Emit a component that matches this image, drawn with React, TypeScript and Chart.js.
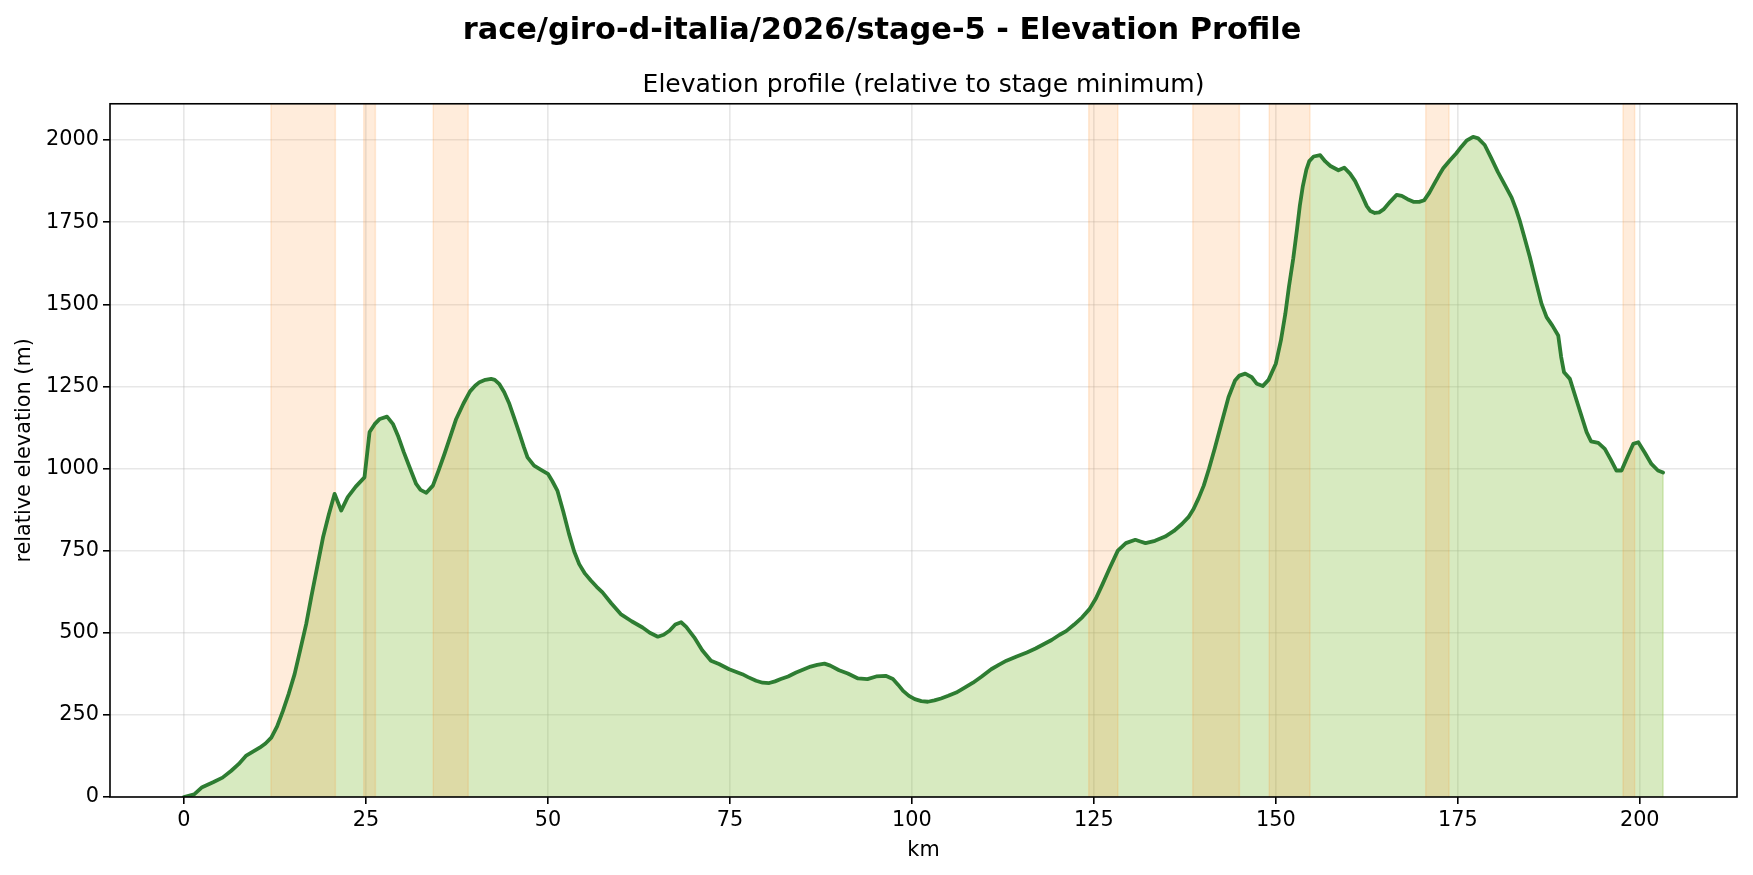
import React, { useEffect, useRef } from 'react';
import { Chart, registerables } from 'chart.js';

Chart.register(...registerables);

const kmValues = [
  0, 1.4, 2.5, 4, 5.3, 6.5, 7.5, 8.5, 10.4, 11.2, 12, 12.8, 13.6, 14.4, 15.2, 16, 16.8, 17.5, 18.3, 19.1,
  19.9, 20.7, 21.6, 22.5, 23.6, 24.8, 25.5, 26.2, 26.9, 27.9, 28.7, 29.4, 30.2, 31.0, 31.9, 32.5, 33.3, 34.2, 35.0, 35.8,
  36.6, 37.4, 38.4, 39.3, 40.0, 40.6, 41.4, 42.2, 42.7, 43.3, 44.0, 44.7, 45.4, 46.1, 46.7, 47.2, 48.1, 49.0, 50.0, 50.6,
  51.3, 52.1, 52.9, 53.6, 54.3, 55.1, 55.9, 56.7, 57.5, 58.7, 60.0, 61.5, 63.0, 64.0, 65.1, 65.9, 66.7, 67.5, 68.3, 69.0,
  70.1, 71.2, 72.4, 73.5, 74.9, 76.7, 77.5, 78.6, 79.5, 80.4, 81.2, 82.0, 83.0, 84.1, 85.1, 86.1, 87.0, 88.0, 88.8, 90.0,
  91.2, 92.6, 93.9, 95.1, 96.4, 97.4, 98.1, 98.8, 99.6, 100.4, 101.3, 102.2, 103.1, 104.0, 105.0, 106.1, 107.2, 108.4, 109.6, 110.9,
  112.0, 113.0, 114.4, 115.8, 117.0, 118.1, 119.2, 120.3, 121.2, 122.3, 123.4, 124.4, 125.3, 126.2, 127.2, 128.3, 129.4, 130.7, 131.4, 132.1,
  133.4, 134.8, 136.0, 137.1, 138.0, 138.7, 139.4, 140.1, 140.8, 141.6, 142.5, 143.5, 144.4, 145.0, 145.8, 146.7, 147.4, 148.2, 149.0, 150.0,
  150.7, 151.3, 151.8, 152.4, 152.9, 153.3, 153.7, 154.2, 154.6, 155.2, 156.1, 156.8, 157.5, 158.6, 159.4, 160.2, 160.9, 161.7, 162.5, 163.0,
  163.6, 164.2, 164.8, 165.7, 166.6, 167.3, 168.1, 168.9, 169.7, 170.4, 171.1, 171.8, 172.4, 173.0, 173.9, 174.8, 175.5, 176.2, 177.1, 177.8,
  178.7, 179.6, 180.5, 181.5, 182.4, 183.0, 183.5, 184.2, 184.9, 185.7, 186.5, 187.2, 188.0, 188.8, 189.2, 189.6, 190.4, 191.5, 192.7, 193.3,
  194.3, 195.2, 196.0, 196.8, 197.5, 198.3, 199.1, 199.8, 200.7, 201.6, 202.5, 203.2,
];

const elevationValues = [
  0, 8, 30, 45, 59, 80, 100, 125, 150, 163, 181, 215, 262, 315, 374, 450, 527, 610, 700, 790,
  860, 923, 872, 913, 945, 973, 1111, 1135, 1151, 1158, 1136, 1100, 1050, 1004, 953, 935, 926, 948, 995, 1045,
  1098, 1151, 1198, 1235, 1252, 1263, 1270, 1273, 1270, 1258, 1232, 1197, 1152, 1106, 1065, 1034, 1009, 997, 984, 962,
  933, 870, 801, 748, 709, 680, 659, 640, 623, 590, 557, 535, 516, 500, 488, 494, 506, 525, 532, 518,
  486, 447, 415, 405, 389, 374, 365, 354, 348, 347, 352, 359, 367, 379, 388, 397, 402, 406, 400, 386,
  376, 361, 359, 367, 369, 359, 342, 323, 308, 298, 292, 290, 294, 300, 308, 318, 332, 348, 367, 389,
  403, 415, 428, 440, 452, 465, 478, 494, 505, 525, 547, 572, 605, 648, 698, 750, 773, 783, 778, 773,
  780, 793, 810, 831, 852, 877, 910, 948, 998, 1060, 1135, 1217, 1268, 1283, 1289, 1278, 1258, 1251, 1270, 1319,
  1390, 1470, 1553, 1640, 1726, 1800, 1858, 1910, 1936, 1950, 1954, 1935, 1921, 1908, 1916, 1898, 1875, 1838, 1799, 1784,
  1778, 1780, 1789, 1812, 1833, 1830, 1820, 1812, 1812, 1817, 1840, 1868, 1892, 1914, 1938, 1960, 1980, 1998, 2010, 2005,
  1985, 1945, 1903, 1862, 1825, 1790, 1756, 1700, 1644, 1572, 1502, 1461, 1435, 1405, 1340, 1293, 1273, 1195, 1111, 1083,
  1078, 1060, 1028, 994, 994, 1035, 1075, 1080, 1048, 1014, 994, 988,
];

const climbStartKm = [11.95, 24.7, 34.25, 124.3, 138.6, 149.1, 170.6, 197.7];
const climbEndKm = [20.8, 26.3, 39.05, 128.3, 145.0, 154.7, 173.8, 199.3];

const xTickValues = [0, 25, 50, 75, 100, 125, 150, 175, 200];
const yTickValues = [0, 250, 500, 750, 1000, 1250, 1500, 1750, 2000];

const titleText = 'race/giro-d-italia/2026/stage-5 - Elevation Profile';
const subtitleText = 'Elevation profile (relative to stage minimum)';
const xLabel = 'km';
const yLabel = 'relative elevation (m)';

const FONT = '"DejaVu Sans", "Liberation Sans", sans-serif';
const W = 1753;
const H = 875;

export default function App() {
  const canvasRef = useRef<HTMLCanvasElement | null>(null);

  useEffect(() => {
    document.body.style.margin = '0';
    const canvas = canvasRef.current;
    if (!canvas) return;

    const points = kmValues.map((x, i) => ({ x, y: elevationValues[i] }));
    const maxKm = kmValues[kmValues.length - 1];
    const xMargin = maxKm * 0.05;
    const maxElev = Math.max(...elevationValues);

    const bandsPlugin = {
      id: 'climbBands',
      afterDatasetDraw(chart: any, args: any) {
        if (args.index !== 1) return;
        const { ctx, chartArea } = chart;
        const xs = chart.scales.x;
        const ys = chart.scales.y;
        ctx.save();
        ctx.beginPath();
        ctx.rect(chartArea.left, chartArea.top, chartArea.right - chartArea.left, chartArea.bottom - chartArea.top);
        ctx.clip();
        climbStartKm.forEach((s, i) => {
          const x1 = xs.getPixelForValue(s);
          const x2 = xs.getPixelForValue(climbEndKm[i]);
          ctx.fillStyle = 'rgba(255,127,14,0.15)';
          ctx.fillRect(x1, chartArea.top, x2 - x1, chartArea.bottom - chartArea.top);
          ctx.strokeStyle = 'rgba(255,127,14,0.15)';
          ctx.lineWidth = 1.5;
          ctx.beginPath();
          ctx.moveTo(x1, chartArea.top);
          ctx.lineTo(x1, chartArea.bottom);
          ctx.moveTo(x2, chartArea.top);
          ctx.lineTo(x2, chartArea.bottom);
          ctx.stroke();
        });
        const lastX = xs.getPixelForValue(kmValues[kmValues.length - 1]);
        const lastY = ys.getPixelForValue(elevationValues[elevationValues.length - 1]);
        ctx.strokeStyle = 'rgba(139,195,74,0.35)';
        ctx.lineWidth = 1.5;
        ctx.beginPath();
        ctx.moveTo(lastX, lastY);
        ctx.lineTo(lastX, ys.getPixelForValue(0));
        ctx.stroke();
        ctx.restore();
      },
    };

    const framePlugin = {
      id: 'frame',
      afterDatasetsDraw(chart: any) {
        const { ctx, chartArea } = chart;
        ctx.save();
        ctx.strokeStyle = '#000';
        ctx.lineWidth = 1.6;
        ctx.strokeRect(chartArea.left, chartArea.top, chartArea.right - chartArea.left, chartArea.bottom - chartArea.top);
        ctx.restore();
      },
    };

    const chart = new Chart(canvas, {
      type: 'line',
      data: {
        datasets: [
          {
            label: 'line',
            data: points,
            borderColor: '#2e7d32',
            borderWidth: 3.8,
            pointRadius: 0,
            tension: 0,
            fill: false,
            borderJoinStyle: 'round',
            borderCapStyle: 'round',
          },
          {
            label: 'fill',
            data: points,
            borderWidth: 0,
            borderColor: 'rgba(0,0,0,0)',
            backgroundColor: 'rgba(139,195,74,0.35)',
            pointRadius: 0,
            tension: 0,
            fill: 'origin',
          },
        ],
      },
      options: {
        animation: false,
        responsive: false,
        devicePixelRatio: 1,
        parsing: false,
        layout: { padding: { left: 27, right: 16, top: 0, bottom: 0 } },
        plugins: {
          legend: { display: false },
          tooltip: { enabled: false },
          title: {
            display: true,
            text: titleText,
            color: '#000',
            font: { family: FONT, size: 30.4, weight: 'bold' },
            padding: { top: 12.5, bottom: 21.8 },
          },
          subtitle: {
            display: true,
            text: subtitleText,
            color: '#000',
            fullSize: false,
            font: { family: FONT, size: 25, weight: 'normal' },
            padding: { top: 0, bottom: 3 },
          },
        },
        scales: {
          x: {
            type: 'linear',
            min: -xMargin,
            max: maxKm + xMargin,
            afterBuildTicks: (scale: any) => {
              scale.ticks = xTickValues.map((v) => ({ value: v }));
            },
            afterFit: (scale: any) => {
              scale.height = 78;
            },
            ticks: {
              color: '#000',
              font: { family: FONT, size: 20.8 },
              padding: 4,
              maxRotation: 0,
              autoSkip: false,
              callback: (v: any) => String(v),
            },
            grid: {
              color: 'rgba(176,176,176,0.3)',
              lineWidth: 1.6,
              drawTicks: true,
              tickLength: 7,
              tickColor: '#000',
              tickWidth: 1.6,
            },
            border: { display: false },
            title: {
              display: true,
              text: xLabel,
              color: '#000',
              font: { family: FONT, size: 20.8 },
              padding: { top: 0, bottom: 11.5 },
            },
          },
          y: {
            type: 'linear',
            min: 0,
            max: maxElev * 1.05,
            afterBuildTicks: (scale: any) => {
              scale.ticks = yTickValues.map((v) => ({ value: v }));
            },
            afterFit: (scale: any) => {
              scale.width = 83;
            },
            ticks: {
              color: '#000',
              font: { family: FONT, size: 20.8 },
              padding: 4,
              autoSkip: false,
              callback: (v: any) => String(v),
            },
            grid: {
              color: 'rgba(176,176,176,0.3)',
              lineWidth: 1.6,
              drawTicks: true,
              tickLength: 7,
              tickColor: '#000',
              tickWidth: 1.6,
            },
            border: { display: false },
            title: {
              display: true,
              text: yLabel,
              color: '#000',
              font: { family: FONT, size: 20.8 },
              padding: { top: -15, bottom: 0 },
            },
          },
        },
      } as any,
      plugins: [bandsPlugin, framePlugin],
    });

    return () => {
      chart.destroy();
    };
  }, []);

  return (
    <div style={{ position: 'absolute', left: 0, top: 0, width: W, height: H, background: '#fff' }}>
      <canvas ref={canvasRef} width={W} height={H} style={{ width: W, height: H, display: 'block' }} />
    </div>
  );
}
